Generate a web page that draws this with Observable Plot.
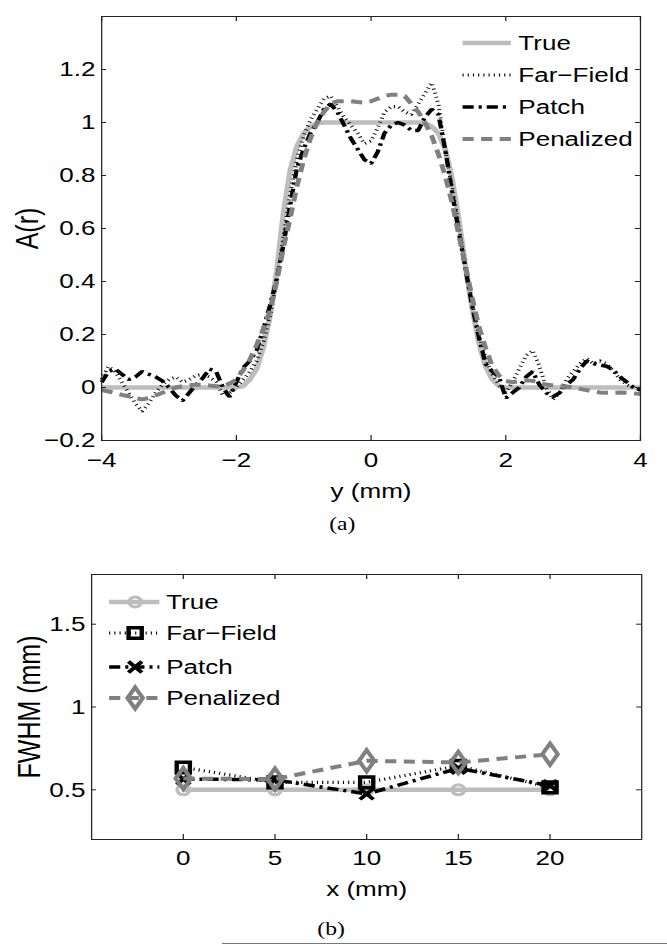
<!DOCTYPE html>
<html><head><meta charset="utf-8">
<script src="https://cdn.jsdelivr.net/npm/d3@7"></script>
<script src="https://cdn.jsdelivr.net/npm/@observablehq/plot@0.6"></script>
<style>
html,body{margin:0;padding:0;background:#fff;overflow:hidden;}
#page{position:relative;width:538px;height:946px;transform:scaleX(1.24);transform-origin:0 0;}
.blk{position:absolute;left:0;}
.cap{position:absolute;width:100px;text-align:center;font-family:"Liberation Serif","DejaVu Serif",serif;font-size:19px;line-height:20px;color:#000;}
#rule{position:absolute;height:1px;background:#777;}
</style></head><body>
<div id="page">
  <div id="plotA" class="blk" style="top:0px"></div>
  <div id="capA" class="cap"></div>
  <div id="plotB" class="blk" style="top:550px"></div>
  <div id="capB" class="cap"></div>
  <div id="rule"></div>
</div>
<script>
// ---------- Data: panel (a) ----------
const yPos = [
  -4,-3.9,-3.8,-3.7,-3.6,-3.5,-3.4,-3.3,-3.2,-3.1,
  -3,-2.9,-2.8,-2.7,-2.6,-2.5,-2.4,-2.3,-2.2,-2.1,
  -2,-1.9,-1.8,-1.7,-1.6,-1.5,-1.4,-1.3,-1.2,-1.1,
  -1,-0.9,-0.8,-0.7,-0.6,-0.5,-0.4,-0.3,-0.2,-0.1,
  0,
  0.1,0.2,0.3,0.4,0.5,0.6,0.7,0.8,0.9,1,
  1.1,1.2,1.3,1.4,1.5,1.6,1.7,1.8,1.9,2,
  2.1,2.2,2.3,2.4,2.5,2.6,2.7,2.8,2.9,3,
  3.1,3.2,3.3,3.4,3.5,3.6,3.7,3.8,3.9,4
];
const aTrue = [
  0,0,0,0,0,0,0,0,0,0,
  0,0,0,0,0,0,0,0,0,0,
  0,0.005,0.03,0.07,0.15,0.27,0.44,0.66,0.82,0.91,
  0.96,0.985,0.997,1,1,1,1,1,1,1,
  1,
  1,1,1,1,1,1,1,0.997,0.985,0.96,
  0.9,0.79,0.64,0.46,0.3,0.17,0.08,0.03,0.005,0,
  0,0,0,0,0,0,0,0,0,0,
  0,0,0,0,0,0,0,0,0,0
];
const aFar = [
  0.03,0.08,0.06,0.02,-0.02,-0.06,-0.09,-0.06,-0.02,0.01,
  0.03,0.04,0.02,0.03,0.045,0.05,0.04,0.02,-0.03,-0.02,
  0,0.03,0.06,0.1,0.17,0.27,0.4,0.57,0.73,0.86,
  0.95,1.01,1.05,1.09,1.1,1.06,1.02,0.99,0.96,0.92,
  0.93,
  0.98,1.04,1.06,1.06,1.04,1.03,1.07,1.11,1.15,1.07,
  0.9,0.76,0.61,0.46,0.32,0.2,0.11,0.05,0.01,-0.02,
  0.02,0.07,0.12,0.14,0.08,0,-0.045,-0.02,0.03,0.06,
  0.09,0.11,0.09,0.1,0.09,0.06,0.03,0.01,0,-0.01
];
const aPatch = [
  0.02,0.06,0.07,0.05,0.03,0.04,0.06,0.05,0.04,0.025,
  0,-0.03,-0.05,-0.02,0.01,0.035,0.07,0.06,0,-0.035,
  0.02,0.075,0.1,0.14,0.22,0.31,0.41,0.54,0.69,0.83,
  0.9,0.96,1.0,1.05,1.07,1.04,0.99,0.94,0.9,0.86,
  0.845,
  0.89,0.96,0.99,1,0.99,0.97,0.97,1.02,1.05,1.03,
  0.9,0.74,0.59,0.45,0.31,0.19,0.09,0.06,0.04,-0.04,
  -0.02,0,0.04,0.06,0.01,-0.02,-0.035,-0.02,0.01,0.03,
  0.07,0.1,0.09,0.085,0.08,0.065,0.04,0.02,0,-0.01
];
const aPen = [
  -0.01,-0.015,-0.02,-0.028,-0.033,-0.04,-0.045,-0.04,-0.03,-0.02,
  -0.01,0,0.005,0.008,0.01,0.01,0.008,0.005,0.005,0.015,
  0.03,0.065,0.105,0.16,0.22,0.29,0.4,0.53,0.64,0.76,
  0.86,0.94,1.0,1.04,1.07,1.08,1.08,1.08,1.077,1.075,
  1.08,
  1.09,1.1,1.105,1.105,1.1,1.07,1.04,1.0,0.95,0.88,
  0.8,0.7,0.58,0.46,0.34,0.23,0.15,0.08,0.045,0.025,
  0.02,0.024,0.027,0.025,0.016,0.011,0.008,0.005,0.004,0,
  -0.005,-0.01,-0.015,-0.019,-0.02,-0.02,-0.019,-0.02,-0.022,-0.025
];
const xTicksA = [-4, -2, 0, 2, 4];
const yTicksA = [-0.2, 0, 0.2, 0.4, 0.6, 0.8, 1, 1.2];
const xLabelA = "y (mm)";
const yLabelA = "A(r)";
const capTextA = "(a)";

// ---------- Data: panel (b) ----------
const xPos = [0, 5, 10, 15, 20];
const bTrue = [0.5, 0.5, 0.5, 0.5, 0.5];
const bFar = [0.635, 0.545, 0.545, 0.645, 0.515];
const bPatch = [0.565, 0.56, 0.475, 0.63, 0.525];
const bPen = [0.568, 0.565, 0.675, 0.665, 0.715];
const xTicksB = [0, 5, 10, 15, 20];
const yTicksB = [0.5, 1, 1.5];
const xLabelB = "x (mm)";
const yLabelB = "FWHM (mm)";
const capTextB = "(b)";

const seriesNames = ["True", "Far\u2212Field", "Patch", "Penalized"];

// ---------- Styles ----------
const FONT = "'Liberation Sans', Arial, Helvetica, sans-serif";
const W = 538;
const styles = [
  {stroke: "#bdbdbd", w: 4.5, dash: null, sym: "circle", mr: 5, mw: 3},
  {stroke: "#000000", w: 3.2, dash: "0.9,3.3", sym: "square", mr: 6, mw: 3.5},
  {stroke: "#000000", w: 3.5, dash: "9,4,2.5,4", sym: "times", mr: 5, mw: 3.5},
  {stroke: "#808080", w: 4, dash: "9,6", sym: "diamond", mr: 6.5, mw: 3.5}
];
const symTypes = {circle: d3.symbolCircle, square: d3.symbolSquare, times: d3.symbolTimes, diamond: d3.symbolDiamond};
const fmtTick = d => d < 0 ? "\u2212" + Math.abs(d) : String(d);

function lineOpts(st) {
  const o = {stroke: st.stroke, strokeWidth: st.w, strokeLinecap: "butt", strokeLinejoin: "miter"};
  if (st.dash) o.strokeDasharray = st.dash;
  return o;
}
function frameTicks(xt, yt, iw, ih) {
  return [
    Plot.tickX(xt, {x: d => d, insetTop: ih - 5, stroke: "#222"}),
    Plot.tickX(xt, {x: d => d, insetBottom: ih - 5, stroke: "#222"}),
    Plot.tickY(yt, {y: d => d, insetRight: iw - 4, stroke: "#222"}),
    Plot.tickY(yt, {y: d => d, insetLeft: iw - 4, stroke: "#222"})
  ];
}

// ---------- Panel (a) ----------
const mA = {top: 16, right: 22, bottom: 64, left: 81.5};
const hA = 504;
const iwA = W - mA.left - mA.right, ihA = hA - mA.top - mA.bottom;
const rowsA = yPos.map((y, i) => ({y, v0: aTrue[i], v1: aFar[i], v2: aPatch[i], v3: aPen[i]}));
const chartA = Plot.plot({
  width: W, height: hA,
  marginTop: mA.top, marginRight: mA.right, marginBottom: mA.bottom, marginLeft: mA.left,
  style: {fontFamily: FONT, fontSize: "21px", color: "#000", background: "transparent", overflow: "visible"},
  x: {domain: [-4, 4]},
  y: {domain: [-0.2, 1.4]},
  marks: [
    ...styles.map((st, k) => Plot.line(rowsA, {x: "y", y: "v" + k, ...lineOpts(st)})),
    ...frameTicks(xTicksA, yTicksA, iwA, ihA),
    Plot.frame({stroke: "#222", strokeWidth: 1}),
    Plot.axisX(xTicksA, {tickSize: 0, tickPadding: 12, tickFormat: fmtTick, fontSize: 21, label: null}),
    Plot.axisY(yTicksA, {tickSize: 0, tickPadding: 5, tickFormat: fmtTick, fontSize: 21, label: null}),
    Plot.text([xLabelA], {text: d => d, frameAnchor: "bottom", dy: 57, lineAnchor: "bottom", textAnchor: "middle", fontSize: 21}),
    Plot.text([yLabelA], {text: d => d, frameAnchor: "left", dx: -69.5, rotate: -90, lineAnchor: "top", textAnchor: "middle", fontSize: 25})
  ]
});
document.getElementById("plotA").appendChild(chartA);

// legend (a)
{
  const g = d3.select(chartA).append("g").attr("font-family", FONT).attr("font-size", 21).attr("text-anchor", "start");
  const rows = [43, 75, 107, 139];
  seriesNames.forEach((name, k) => {
    const st = styles[k];
    const ln = g.append("line").attr("x1", 373).attr("x2", 412).attr("y1", rows[k]).attr("y2", rows[k])
      .attr("stroke", st.stroke).attr("stroke-width", st.w).attr("stroke-linecap", "butt");
    if (st.dash) ln.attr("stroke-dasharray", st.dash);
    g.append("text").attr("x", 418).attr("y", rows[k]).attr("dy", "0.35em").attr("text-anchor", "start").text(name);
  });
}

// ---------- Panel (b) ----------
const mB = {top: 24, right: 21, bottom: 66, left: 73.4};
const hB = 355;
const iwB = W - mB.left - mB.right, ihB = hB - mB.top - mB.bottom;
const rowsB = xPos.map((x, i) => ({x, v0: bTrue[i], v1: bFar[i], v2: bPatch[i], v3: bPen[i]}));
const marksB = [];
styles.forEach((st, k) => {
  marksB.push(Plot.line(rowsB, {x: "x", y: "v" + k, ...lineOpts(st)}));
  marksB.push(Plot.dot(rowsB, {x: "x", y: "v" + k, symbol: st.sym, r: st.mr, stroke: st.stroke, strokeWidth: st.mw, fill: "none"}));
});
const chartB = Plot.plot({
  width: W, height: hB,
  marginTop: mB.top, marginRight: mB.right, marginBottom: mB.bottom, marginLeft: mB.left,
  style: {fontFamily: FONT, fontSize: "21px", color: "#000", background: "transparent", overflow: "visible"},
  x: {domain: [-5, 25]},
  y: {domain: [0.2, 1.8]},
  marks: [
    ...marksB,
    ...frameTicks(xTicksB, yTicksB, iwB, ihB),
    Plot.frame({stroke: "#222", strokeWidth: 1}),
    Plot.axisX(xTicksB, {tickSize: 0, tickPadding: 11, tickFormat: fmtTick, fontSize: 21, label: null}),
    Plot.axisY(yTicksB, {tickSize: 0, tickPadding: 5, tickFormat: fmtTick, fontSize: 21, label: null}),
    Plot.text([xLabelB], {text: d => d, frameAnchor: "bottom", dy: 56, lineAnchor: "bottom", textAnchor: "middle", fontSize: 21}),
    Plot.text([yLabelB], {text: d => d, frameAnchor: "left", dx: -59.7, rotate: -90, lineAnchor: "top", textAnchor: "middle", fontSize: 25})
  ]
});
document.getElementById("plotB").appendChild(chartB);

// legend (b)
{
  const g = d3.select(chartB).append("g").attr("font-family", FONT).attr("font-size", 21).attr("text-anchor", "start");
  const rows = [52, 83, 117, 148];
  seriesNames.forEach((name, k) => {
    const st = styles[k];
    const ln = g.append("line").attr("x1", 88).attr("x2", 128.5).attr("y1", rows[k]).attr("y2", rows[k])
      .attr("stroke", st.stroke).attr("stroke-width", st.w).attr("stroke-linecap", "butt");
    if (st.dash) ln.attr("stroke-dasharray", st.dash);
    g.append("path").attr("transform", `translate(109,${rows[k]})`)
      .attr("d", d3.symbol(symTypes[st.sym], Math.PI * st.mr * st.mr)())
      .attr("fill", "none").attr("stroke", st.stroke).attr("stroke-width", st.mw);
    g.append("text").attr("x", 134).attr("y", rows[k]).attr("dy", "0.35em").attr("text-anchor", "start").text(name);
  });
}

// captions and rule
const capA = document.getElementById("capA");
capA.textContent = capTextA;
capA.style.left = (276 - 50) + "px";
capA.style.top = "514px";
const capB = document.getElementById("capB");
capB.textContent = capTextB;
capB.style.left = (267 - 50) + "px";
capB.style.top = "919px";
const rule = document.getElementById("rule");
rule.style.left = "179px";
rule.style.width = "359px";
rule.style.top = "943px";
</script>
</body></html>
